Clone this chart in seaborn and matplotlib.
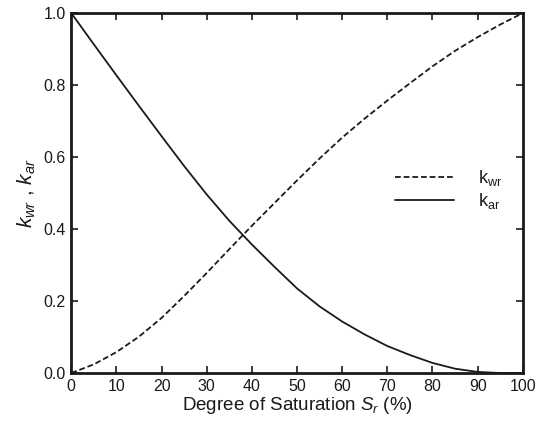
import matplotlib
matplotlib.use("Agg")
import matplotlib.pyplot as plt
import seaborn as sns
import pandas as pd

# Degree of saturation (%) and relative permeabilities
saturation = [0, 5, 10, 15, 20, 25, 30, 35, 40, 45, 50,
              55, 60, 65, 70, 75, 80, 85, 90, 95, 100]
k_wr = [0.0, 0.024, 0.058, 0.101, 0.153, 0.214, 0.278, 0.344, 0.409, 0.472, 0.535,
        0.596, 0.654, 0.707, 0.757, 0.805, 0.852, 0.895, 0.933, 0.968, 1.0]
k_ar = [1.0, 0.913, 0.827, 0.742, 0.658, 0.575, 0.496, 0.423, 0.357, 0.295, 0.235,
        0.185, 0.143, 0.107, 0.075, 0.05, 0.028, 0.012, 0.003, 0.0, 0.0]

x_ticks = [0, 10, 20, 30, 40, 50, 60, 70, 80, 90, 100]
y_ticks = [0.0, 0.2, 0.4, 0.6, 0.8, 1.0]

sns.set_theme(style="ticks")
plt.rcParams["font.family"] = ["Liberation Sans", "DejaVu Sans"]
plt.rcParams["mathtext.fontset"] = "custom"
plt.rcParams["mathtext.rm"] = "Liberation Sans"
plt.rcParams["mathtext.it"] = "Liberation Sans:italic"

df = pd.DataFrame({"Sr": saturation, "kwr": k_wr, "kar": k_ar})

fig = plt.figure(figsize=(5.44, 4.21), dpi=100)
ax = fig.add_axes([0.131, 0.114, 0.830, 0.855])

ink = "#1a1a1a"
sns.lineplot(data=df, x="Sr", y="kwr", ax=ax, color=ink, lw=1.3,
             linestyle=(0, (3.2, 1.6)), label=r"k$_{\mathrm{wr}}$")
sns.lineplot(data=df, x="Sr", y="kar", ax=ax, color=ink, lw=1.3,
             linestyle="-", label=r"k$_{\mathrm{ar}}$")

ax.set_xlim(0, 100)
ax.set_ylim(0, 1.0)
ax.set_xticks(x_ticks)
ax.set_yticks(y_ticks)
ax.set_yticklabels([f"{v:.1f}" for v in y_ticks])
ax.tick_params(direction="in", length=5, width=1.2, color=ink,
               top=True, right=True, labelsize=11.5, labelcolor=ink, pad=4)
for s in ax.spines.values():
    s.set_linewidth(2.0)
    s.set_color(ink)

ax.set_xlabel(r"Degree of Saturation $S_r$ (%)", fontsize=13.5, color=ink, labelpad=1)
ax.set_ylabel(r"$k_{wr}$ , $k_{ar}$", fontsize=15, color=ink, labelpad=4)

leg = ax.legend(loc="upper left", bbox_to_anchor=(0.70, 0.59), frameon=False,
                fontsize=13, handlelength=3.3, handletextpad=1.3,
                labelspacing=0.2, borderaxespad=0)
for t in leg.get_texts():
    t.set_color(ink)

fig.savefig("out.png", dpi=100)
